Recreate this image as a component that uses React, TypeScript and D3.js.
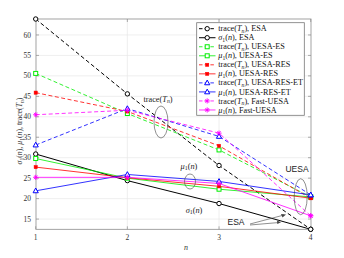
import * as d3 from 'd3';

const nValues = [1, 2, 3, 4];
const yTicks = [15, 20, 25, 30, 35, 40, 45, 50, 55, 60];

// values
const traceESA = [63.9, 45.6, 28.1, 12.5];
const sigmaESA = [30.9, 24.4, 18.8, 12.5];
const traceES = [50.6, 40.8, 31.9, 20.4];
const muES = [29.8, 25.0, 22.3, 20.4];
const traceRES = [45.9, 41.3, 32.9, 20.1];
const muRES = [27.7, 25.1, 23.0, 20.1];
const traceET = [33.1, 42.0, 35.2, 20.9];
const muET = [21.9, 25.9, 24.2, 20.9];
const traceFast = [40.5, 41.6, 36.0, 15.8];
const muFast = [25.2, 25.2, 23.7, 15.8];

type Marker = 'circle' | 'square' | 'dot' | 'triangle' | 'plus';
interface Series { values: number[]; color: string; dashed: boolean; marker: Marker; kind: 'trace' | 'sigma' | 'mu'; method: string }

const series: Series[] = [
    { values: traceESA, color: '#000000', dashed: true, marker: 'circle', kind: 'trace', method: 'ESA' },
    { values: sigmaESA, color: '#000000', dashed: false, marker: 'circle', kind: 'sigma', method: 'ESA' },
    { values: traceES, color: '#00ee00', dashed: true, marker: 'square', kind: 'trace', method: 'UESA-ES' },
    { values: muES, color: '#00ee00', dashed: false, marker: 'square', kind: 'mu', method: 'UESA-ES' },
    { values: traceRES, color: '#ff0000', dashed: true, marker: 'dot', kind: 'trace', method: 'UESA-RES' },
    { values: muRES, color: '#ff0000', dashed: false, marker: 'dot', kind: 'mu', method: 'UESA-RES' },
    { values: traceET, color: '#0000ff', dashed: true, marker: 'triangle', kind: 'trace', method: 'UESA-RES-ET' },
    { values: muET, color: '#0000ff', dashed: false, marker: 'triangle', kind: 'mu', method: 'UESA-RES-ET' },
    { values: traceFast, color: '#ff00ff', dashed: true, marker: 'plus', kind: 'trace', method: 'Fast-UESA' },
    { values: muFast, color: '#ff00ff', dashed: false, marker: 'plus', kind: 'mu', method: 'Fast-UESA' },
];

const W = 344, H = 258;
const left = 36, right = 311, top = 19, bottom = 229.3;
const serif = '"Liberation Serif", "DejaVu Serif", serif';
const sans = '"Liberation Sans", Arial, sans-serif';

function MarkerShape({ type, x, y, color }: { type: Marker; x: number; y: number; color: string }) {
    if (type === 'circle') return <circle cx={x} cy={y} r={2.2} fill="white" stroke={color} strokeWidth={1} />;
    if (type === 'square') return <rect x={x - 2} y={y - 2} width={4} height={4} fill="white" stroke={color} strokeWidth={1} />;
    if (type === 'dot') return <rect x={x - 1.6} y={y - 1.6} width={3.2} height={3.2} fill={color} stroke={color} strokeWidth={0.5} />;
    if (type === 'triangle') return <path d={`M${x},${y - 2.8} L${x + 2.6},${y + 1.9} L${x - 2.6},${y + 1.9} Z`} fill="white" stroke={color} strokeWidth={1} />;
    return <path d={`M${x - 2.6},${y} H${x + 2.6} M${x},${y - 2.6} V${y + 2.6} M${x - 1.8},${y - 1.8} L${x + 1.8},${y + 1.8} M${x - 1.8},${y + 1.8} L${x + 1.8},${y - 1.8}`} stroke={color} strokeWidth={0.9} />;
}

function Quantity({ kind }: { kind: 'trace' | 'sigma' | 'mu' }) {
    if (kind === 'trace') return <>trace(<tspan fontStyle="italic">T</tspan><tspan fontStyle="italic" fontSize="0.7em" dy="1.5">n</tspan><tspan dy="-1.5">)</tspan></>;
    const g = kind === 'sigma' ? 'σ' : 'μ';
    return <><tspan fontStyle="italic">{g}</tspan><tspan fontSize="0.7em" dy="1.5">1</tspan><tspan dy="-1.5">(</tspan><tspan fontStyle="italic">n</tspan>)</>;
}

export default function App() {
    const x = d3.scaleLinear().domain([1, 4]).range([35.7, 310.7]);
    const y = d3.scaleLinear().domain([12.5, 63.9]).range([bottom, top]);
    const line = d3.line<number>().x((_, i) => x(nValues[i])).y(d => y(d));

    const legX = 196.7, legY = 22.7, legW = 107.6, legH = 92.6;

    return (
        <svg width={W} height={H} style={{ position: 'absolute', left: 0, top: 0, background: 'white' }}>
            {/* grid */}
            {yTicks.map(t => <line key={'gy' + t} x1={left} x2={right} y1={y(t)} y2={y(t)} stroke="#e8e8e8" strokeWidth={0.7} />)}
            {nValues.slice(1, 3).map(t => <line key={'gx' + t} x1={x(t)} x2={x(t)} y1={top} y2={bottom} stroke="#e8e8e8" strokeWidth={0.7} />)}
            {/* axes box + ticks */}
            <rect x={left} y={top} width={right - left} height={bottom - top} fill="none" stroke="#8c8c8c" strokeWidth={0.8} />
            {yTicks.map(t => (
                <g key={'ty' + t}>
                    <line x1={left} x2={left + 3} y1={y(t)} y2={y(t)} stroke="#8c8c8c" strokeWidth={0.7} />
                    <line x1={right - 3} x2={right} y1={y(t)} y2={y(t)} stroke="#8c8c8c" strokeWidth={0.7} />
                    <text x={31} y={y(t) + 2.6} textAnchor="end" fontFamily={serif} fontSize={7.5} fill="#333">{t}</text>
                </g>
            ))}
            {nValues.map(t => (
                <g key={'tx' + t}>
                    <line x1={x(t)} x2={x(t)} y1={bottom} y2={bottom - 3} stroke="#8c8c8c" strokeWidth={0.7} />
                    <line x1={x(t)} x2={x(t)} y1={top} y2={top + 3} stroke="#8c8c8c" strokeWidth={0.7} />
                    <text x={x(t)} y={240} textAnchor="middle" fontFamily={serif} fontSize={7.5} fill="#333">{t}</text>
                </g>
            ))}
            <text x={186} y={250} textAnchor="middle" fontFamily={serif} fontSize={8} fontStyle="italic" fill="#333">n</text>
            <text transform="translate(22,131) rotate(-90)" textAnchor="middle" fontFamily={serif} fontSize={7.8} fill="#333">
                <Quantity kind="sigma" />, <Quantity kind="mu" />, <Quantity kind="trace" />
            </text>

            {/* series */}
            {series.map((s, i) => (
                <path key={'l' + i} d={line(s.values) || ''} fill="none" stroke={s.color} strokeWidth={1}
                    strokeOpacity={s.color === '#000000' ? 1 : 0.8} strokeDasharray={s.dashed ? '4,2.5' : undefined} />
            ))}
            {series.map((s, i) => s.values.map((v, j) => (
                <MarkerShape key={`m${i}-${j}`} type={s.marker} x={x(nValues[j])} y={y(v)} color={s.color} />
            )))}

            {/* annotations */}
            <g fill="none" stroke="#444" strokeWidth={0.6}>
                <ellipse cx={161} cy={122} rx={7} ry={16} />
                <ellipse cx={190} cy={181.5} rx={5.5} ry={7.5} />
                <ellipse cx={300.7} cy={196.7} rx={6.5} ry={18} />
                <line x1={250} y1={224} x2={284} y2={215} />
                <line x1={250} y1={225} x2={279} y2={222.5} />
            </g>
            <path d="M286,214.5 L281,214 L282.5,217.5 Z" fill="#444" />
            <path d="M281,222.3 L277,220.6 L277.3,224 Z" fill="#444" />
            <text x={158} y={101.5} textAnchor="middle" fontFamily={serif} fontSize={8.3} fill="#222"><Quantity kind="trace" /></text>
            <text x={189} y={168.5} textAnchor="middle" fontFamily={serif} fontSize={8.3} fill="#222"><Quantity kind="mu" /></text>
            <text x={194} y={212.5} textAnchor="middle" fontFamily={serif} fontSize={8.3} fill="#222"><Quantity kind="sigma" /></text>
            <text x={297} y={172} textAnchor="middle" fontFamily={sans} fontSize={8.5} fill="#222">UESA</text>
            <text x={236} y={225} textAnchor="middle" fontFamily={sans} fontSize={8.5} fill="#222">ESA</text>

            {/* legend */}
            <rect x={legX} y={legY} width={legW} height={legH} fill="white" stroke="#777" strokeWidth={0.8} />
            {series.map((s, i) => {
                const ly = 28.7 + i * 9.03;
                return (
                    <g key={'lg' + i}>
                        <line x1={199} x2={215.5} y1={ly} y2={ly} stroke={s.color} strokeWidth={1}
                            strokeOpacity={s.color === '#000000' ? 1 : 0.8} strokeDasharray={s.dashed ? '3.5,2.2' : undefined} />
                        <MarkerShape type={s.marker} x={207.2} y={ly} color={s.color} />
                        <text x={218.3} y={ly + 2.6} fontFamily={serif} fontSize={8.2} fill="#111">
                            <Quantity kind={s.kind} />, {s.method}
                        </text>
                    </g>
                );
            })}
        </svg>
    );
}
